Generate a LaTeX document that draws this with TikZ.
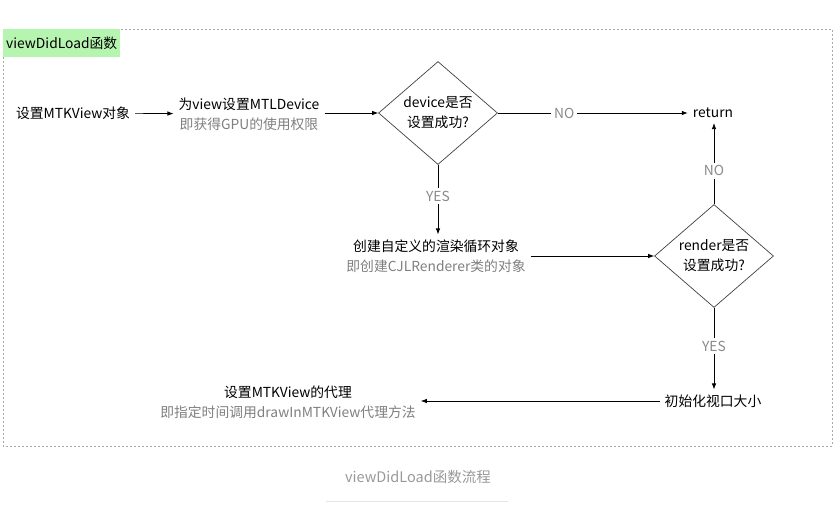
\documentclass[tikz,border=0pt]{standalone}
\usepackage{fontspec}
\setmainfont{Noto Sans CJK SC}
\usetikzlibrary{shapes.geometric,arrows.meta}
\definecolor{sub}{HTML}{7F7F7F}
\definecolor{lbl}{HTML}{8A8A8A}
\definecolor{frame}{HTML}{A8A8A8}
\definecolor{greenbox}{HTML}{B6F5B0}
\definecolor{cap}{HTML}{999999}
\tikzset{
  txt/.style={font=\fontsize{13.8}{20}\selectfont, align=center, inner sep=5pt},
  dia/.style={diamond, draw=black!75, line width=0.7pt, minimum width=119pt, minimum height=103pt, inner sep=0pt, aspect=1.15, font=\fontsize{13.8}{20}\selectfont, align=center},
  arr/.style={-{Latex[length=6pt,width=4.5pt]}, line width=0.7pt},
  lab/.style={fill=white, text=lbl, font=\fontsize{13.8}{15}\selectfont, inner sep=3pt}
}
\begin{document}
\begin{tikzpicture}[x=1pt,y=-1pt]
\useasboundingbox (0,0) rectangle (837,508);
\draw[frame, dash pattern=on 2pt off 2pt, line width=0.6pt] (3,29) rectangle (832,446);
\node[fill=greenbox, inner sep=0pt, minimum width=117pt, minimum height=28pt, anchor=north west, font=\fontsize{13.8}{15}\selectfont] (title) at (3,29) {viewDidLoad函数};

\node[txt] (start) at (73,113) {设置MTKView对象};
\node[txt] (dev) at (249,114) {为view设置MTLDevice\\\textcolor{sub}{即获得GPU的使用权限}};
\node[dia] (d1) at (438,113) {device是否\\设置成功?};
\node[txt] (ret) at (713,113) {return};
\node[txt] (create) at (436,256) {创建自定义的渲染循环对象\\\textcolor{sub}{即创建CJLRenderer类的对象}};
\node[dia] (d2) at (714,256) {render是否\\设置成功?};
\node[txt] (init) at (713,401) {初始化视口大小};
\node[txt] (dele) at (288,402) {设置MTKView的代理\\\textcolor{sub}{即指定时间调用drawInMTKView代理方法}};

\draw[arr] (start) -- (dev);
\draw[arr] (dev.east |- d1.west) -- (d1.west);
\draw[arr] (d1.east) -- node[lab, pos=0.35] {NO} (ret.west);
\draw[arr] (d1.south) -- node[lab, pos=0.45] {YES} (create.north -| d1.south);
\draw[arr] (create.east |- d2.west) -- (d2.west);
\draw[arr] (d2.north) -- node[lab, pos=0.41] {NO} (ret.south -| d2.north);
\draw[arr] (d2.south) -- node[lab, pos=0.47] {YES} (init.north -| d2.south);
\draw[arr] (init.west) -- (dele.east |- init.west);

\node[text=cap, font=\fontsize{14.5}{16}\selectfont] (caption) at (418,477) {viewDidLoad函数流程};
\draw[black!10, line width=0.8pt] (326,501) -- (508,501);
\end{tikzpicture}
\end{document}
